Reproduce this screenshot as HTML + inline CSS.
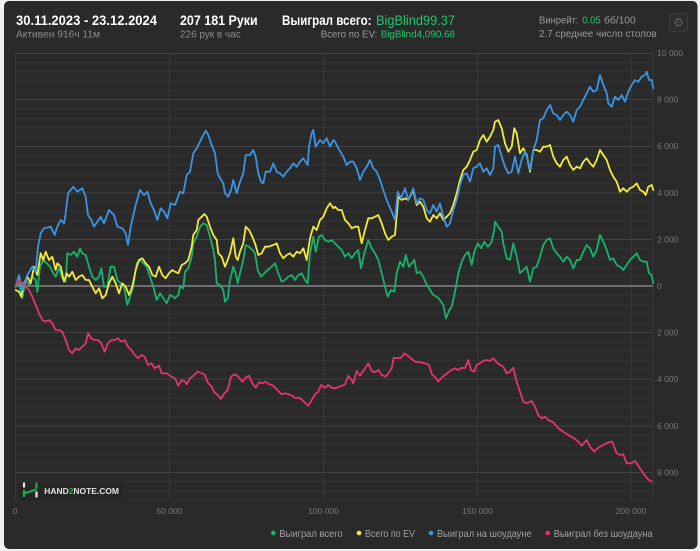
<!DOCTYPE html>
<html><head><meta charset="utf-8"><style>
html,body{margin:0;padding:0;background:#f0f0f0;}
body{width:700px;height:551px;overflow:hidden;position:relative;}
svg{position:absolute;left:0;top:0;}
text{font-family:"Liberation Sans","DejaVu Sans",sans-serif;}
</style></head><body>
<svg width="700" height="551" viewBox="0 0 700 551" xmlns="http://www.w3.org/2000/svg">
<rect x="4" y="1" width="693.5" height="548" rx="5" fill="#2a2a2a"/>

<!-- header -->
<text x="16" y="25" font-size="13.5" font-weight="bold" fill="#ffffff" textLength="141" lengthAdjust="spacingAndGlyphs">30.11.2023 - 23.12.2024</text>
<text x="16" y="37.5" font-size="10.5" fill="#8c8c8c" textLength="84" lengthAdjust="spacingAndGlyphs">Активен 916ч 11м</text>
<text x="180" y="25" font-size="13.5" font-weight="bold" fill="#ffffff" textLength="77.7" lengthAdjust="spacingAndGlyphs">207 181 Руки</text>
<text x="180" y="37.5" font-size="10.5" fill="#8c8c8c" textLength="60.7" lengthAdjust="spacingAndGlyphs">226 рук в час</text>
<text x="282" y="25" font-size="13.5" font-weight="bold" fill="#ffffff" textLength="89.5" lengthAdjust="spacingAndGlyphs">Выиграл всего:</text>
<text x="376" y="25" font-size="13.5" fill="#22c46f" textLength="79" lengthAdjust="spacingAndGlyphs">BigBlind99.37</text>
<text x="320.7" y="37.5" font-size="10.5" fill="#9a9a9a" textLength="56.6" lengthAdjust="spacingAndGlyphs">Всего по EV:</text>
<text x="380.7" y="37.5" font-size="10.5" fill="#22c46f" textLength="74.3" lengthAdjust="spacingAndGlyphs">BigBlind4,090.68</text>
<text x="539" y="23.5" font-size="10.5" fill="#9a9a9a" textLength="39.5" lengthAdjust="spacingAndGlyphs">Винрейт:</text>
<text x="582.3" y="23.5" font-size="10.5" fill="#22c46f" textLength="18.4" lengthAdjust="spacingAndGlyphs">0.05</text>
<text x="604" y="23.5" font-size="10.5" fill="#9a9a9a" textLength="31.7" lengthAdjust="spacingAndGlyphs">бб/100</text>
<text x="539" y="37" font-size="10.5" fill="#9a9a9a" textLength="117.7" lengthAdjust="spacingAndGlyphs">2.7 среднее число столов</text>
<rect x="669.5" y="13.5" width="18" height="18" rx="3" fill="#2d2d2d" stroke="#3d3d3d"/>
<text x="678.5" y="26.5" font-size="12" fill="#5e5e5e" text-anchor="middle" style="font-family:'DejaVu Sans',sans-serif">⚙</text>

<!-- grid minor -->
<path d="M15 62.5H653M15 71.5H653M15 81H653M15 90.5H653M15 109H653M15 118.5H653M15 127.5H653M15 137H653M15 155.5H653M15 165H653M15 174H653M15 183.5H653M15 202H653M15 211.5H653M15 221H653M15 230H653M15 248.5H653M15 258H653M15 267.5H653M15 276.5H653M15 295.5H653M15 304.5H653M15 314H653M15 323.5H653M15 342H653M15 351H653M15 360.5H653M15 370H653M15 388.5H653M15 398H653M15 407H653M15 416.5H653M15 435H653M15 444.5H653M15 454H653M15 463H653M15 481.5H653M15 491H653M15 500.5H653" stroke="#323232" stroke-width="1" fill="none"/>
<!-- grid major -->
<path d="M15 53.5H653M15 99.5H653M15 146.5H653M15 193H653M15 239.5H653M15 332.5H653M15 379H653M15 426H653M15 472.5H653" stroke="#434343" stroke-width="1" fill="none"/>
<!-- vertical -->
<path d="M15.5 53V501M169.5 53V501M323.5 53V501M477.5 53V501M631 53V501M653 53V501" stroke="#393939" stroke-width="1" fill="none"/>
<!-- zero -->
<path d="M15 286H653" stroke="#6e6e6e" stroke-width="2" fill="none"/>

<!-- logo -->
<rect x="19" y="481.5" width="104" height="19" fill="#262626"/>
<path d="M24 482.5V487.5M36.5 491.5V497.5" stroke="#e8e8e8" stroke-width="2.2" fill="none"/>
<path d="M24 490V497M36.5 482.5V488.5M24 493.5L36.5 489.5" stroke="#27a84a" stroke-width="2.2" fill="none"/>
<text x="44.3" y="494" font-size="8.3" font-weight="bold" fill="#e2e2e2" textLength="74.7" lengthAdjust="spacingAndGlyphs">HAND<tspan fill="#27b04e">2</tspan>NOTE.COM</text>

<!-- y labels -->
<g font-size="8.5" fill="#787878">
<text x="657" y="56">10 000</text>
<text x="657" y="102.5">8 000</text>
<text x="657" y="149.2">6 000</text>
<text x="657" y="195.8">4 000</text>
<text x="657" y="242.4">2 000</text>
<text x="657" y="289">0</text>
<text x="657" y="335.6">2 000</text>
<text x="657" y="382.2">4 000</text>
<text x="657" y="428.8">6 000</text>
<text x="657" y="475.4">8 000</text>
</g>
<!-- x labels -->
<g font-size="8.5" fill="#787878" text-anchor="middle">
<text x="15" y="514">0</text>
<text x="169.5" y="514">50 000</text>
<text x="323.5" y="514">100 000</text>
<text x="477.5" y="514">150 000</text>
<text x="631" y="514">200 000</text>
</g>

<!-- series -->
<g fill="none" stroke-width="1.8" stroke-linejoin="round" stroke-linecap="round">
<polyline stroke="#17b36b" points="15.7,286.7 19,283.3 22.3,298.3 25.7,280 29,285 32.3,276.7 35.7,280 37.3,291.7 40,266.7 43.3,260 46.7,263.3 50,266.7 53.3,273.3 55.7,276.7 59,268.3 62.3,278.3 65.7,281.7 67.3,253.3 70.7,255 74,251.7 77.3,256.7 80,248.3 82.3,253.3 85.7,255 89,266.7 92.3,276.7 95.7,280 99,276.7 101.3,268.3 104,286.7 107.3,286.7 110.7,266.7 114,266.7 117.3,280 120.7,283.3 124,286.7 127.3,305 130.7,295 133.3,286.7 136.7,263.3 140,260 143.3,263.3 146.7,266.7 150,276.7 153.3,286.7 156.7,300 160,293.3 163.3,298.3 166.7,303.3 170,295 173.3,296.7 175,298.3 178.3,295 180,286.7 183.3,288.3 185,271.7 188.3,268.3 191.7,256.7 193.3,243.3 196.7,236.7 200,226.7 203.3,223.3 206.7,225 210,236.7 213.3,250 215,260 216.7,283.3 220,285 223.3,290 225,301.7 227.7,298.3 230,280 233.3,266.7 235.7,273.3 237.7,283.3 240,273.3 243.3,260 245.7,245 249,246.7 252.3,250 255,253.3 257.7,270 261,276.7 264.3,273.3 267.7,270 271.7,266.7 275,263.3 278.3,273.3 281.7,281.7 285,280 288.3,276.7 291.7,275 295,280 298.3,275 301.7,273.3 305,280 307.7,283.3 310,253.3 313.3,236.7 315.7,251.7 319,236.7 321.7,235 325,240 328.3,241.7 331.7,240 335,243.3 338.3,246.7 341.7,250 345,256.7 348.3,253.3 351.7,258.3 355,253.3 358.3,250 361,268.3 364.3,253.3 368.3,240 371.7,248.3 375,253.3 378.3,260 381.7,273.3 385,286.7 387.7,296.7 391,290 394.3,291.7 396.7,273.3 400,261.7 403.3,266.7 405.7,255 409,266.7 411.7,263.3 414.3,260 416.7,273.3 420,271.7 423.3,276.7 426.7,285 430,290 433.3,295 436.7,296.7 440,300 443.3,305 446,318.3 449.3,310 451.7,306.7 455,291.7 458.3,273.3 461.7,261.7 465,255 468.3,251.7 471.7,265 474.3,251.7 477.7,243.3 481,248.3 484.3,241.7 487.7,246.7 491,243.3 494.3,230 495,221.7 498.3,226.7 501.7,231.7 503.3,243.3 506.7,258.3 510,260 513.3,243.3 516.7,256.7 520,273.3 523.3,270 526.7,266.7 530,281.7 533.3,268.3 536.7,266.7 540,256.7 543.3,245 546.7,240 550,238.3 553.3,248.3 556.7,253.3 560,256.7 563.3,261.7 566.7,256.7 570,260 573.3,268.3 576.7,260 580,260 583.3,251.7 586.7,245 590,248.3 593.3,256.7 596.7,250 600,235 603.3,241.7 606.7,250 610,260 613.3,258.3 616.7,265 620,266.7 623.3,270 626.7,265 630,260 633.3,256.7 636.7,253.3 640,260 643.3,261.7 646.7,261.7 649,273.3 651.7,275 653.3,283.3"/>
<polyline stroke="#f3ea3c" points="15.7,290 19,291.7 21.3,296.7 24,283.3 27.3,276.7 30.7,283.3 34,266.7 37.3,275 40.7,253.3 43.3,260 45.7,251.7 49,260 52.3,256.7 55.7,270 57.3,263.3 60.7,266.7 64,281.7 66.7,273.3 69,276.7 72.3,271.7 75.7,280 79,276.7 82.3,275 85.7,280 89,280 92.3,286.7 95.7,293.3 99,288.3 102.3,298.3 105.7,295 109,283.3 112.3,276.7 115.7,283.3 119,293.3 122.3,283.3 125.7,286.7 129,295 132.3,286.7 135.7,270 139,260 142.3,258.3 145.7,263.3 149,266.7 152.3,275 155.7,276.7 159,266.7 162.3,275 165.7,278.3 169,273.3 172.3,270 175,271.7 178.3,273.3 181.7,265 185,263.3 188.3,260 191.7,246.7 193.3,235 196.7,230 198.3,220 201.7,216.7 204.3,214 206.7,216.7 210,226.7 213.3,235 216.7,240 218.3,253.3 221.7,256.7 225,266.7 227.7,260 230,253.3 233.3,238.3 235.7,256.7 237.7,260 240,251.7 243.3,243.3 245.7,226.7 249,230 252.3,236.7 255,243.3 258.3,255 261.7,253.3 265,246.7 268.3,246.7 273.3,245 276.7,243.3 280,253.3 283.3,258.3 286.7,255 290,253.3 293.3,256.7 296.7,251.7 300,253.3 303.3,248.3 306.7,260 310,238.3 313.3,226.7 316.7,230 320,220 323.3,216.7 326.7,208.3 330,203.3 333.3,208.3 335,206.7 338.3,210 341.7,210 345,220 348.3,223.3 351.7,228.3 355,226.7 358.3,226.7 361.7,243.3 365,230 368.3,218.3 371.7,218.3 375,216.7 378.3,215 381.7,223.3 385,233.3 388.3,240 391.7,236.7 395,235 398.3,196.7 401.7,200 405,198.3 408.3,200 413.3,190 416.7,205 420,201.7 423.3,206.7 426.7,218.3 430,221.7 433.3,215 436.7,218.3 440,213.3 443.3,220 446.7,216.7 450,213.3 453.3,205 456.7,193.3 460,180 463.3,170 466.7,166.7 470,160 473.3,151.7 476.7,150 480,140 483.3,135 486.7,141.7 490,136.7 493.3,130 495,121.7 498.3,120 501.7,128.3 505,143.3 508.3,151.7 511.7,146.7 514.3,128.3 516.7,133.3 520,153.3 523.3,148.3 526.7,155 530,171.7 533.3,150 536.7,150 540,151.7 543.3,146.7 546.7,146.7 550,145 553.3,156.7 556.7,163.3 560,166.7 563.3,160 566.7,156.7 570,165 573.3,170 576.7,166.7 580,168.3 583.3,161.7 586.7,158.3 590,163.3 593.3,166.7 596.7,160 600,150 603.3,155 606.7,160 610,170 613.3,176.7 616.7,181.7 620,191.7 623.3,188.3 626.7,191.7 630,188.3 633.3,186.7 636.7,183.3 640,190 643.3,191.7 645.7,195 648.3,186.7 651.7,185 653.3,190"/>
<polyline stroke="#3b95e4" points="15.7,286.7 19,275 22.3,290 27.3,275 32.3,266.7 35.7,271.7 38,246.7 40.7,233.3 44,228.3 50.7,226.7 54.7,235 57.3,226.7 60.7,220 64,223.3 65.7,213.3 68,193.3 70.7,190 73.3,186.7 77.3,191.7 82.3,188.3 85.7,196.7 88,215 91.3,220 94,226.7 97.3,221.7 100.7,216.7 104,223.3 109,210 114,215 117.3,226.7 122.3,228.3 125.7,233.3 128,245 130.7,226.7 132.3,220 135.7,205 140,190 144,195 147.3,191.7 150.7,203.3 154,210 157.3,220 160.7,208.3 164,211.7 167.3,218.3 170.7,203.3 175,205 180,191.7 183.3,193.3 186.7,175 190,171.7 193.3,153.3 196.7,148.3 200,141.7 203.3,135 206,130.7 208.3,135 211.7,145 215,153.3 217.7,173.3 220,178.3 223.3,183.3 225,193.3 228.3,196.7 231,190 233.3,180 236.7,193.3 240,181.7 243.3,173.3 245.7,155 250,155 253.3,150 255.7,156.7 258.3,173.3 261,181.7 263.3,183.3 265.7,171.7 270,171.7 273.3,163.3 276.7,171.7 280,173.3 283.3,176.7 286.7,171.7 290,168.3 293.3,163.3 296.7,166.7 300,161.7 303.3,158.3 307.7,165 309,146.7 311.7,133.3 313.3,130 315.7,146.7 320,140 323.3,143.3 326.7,138.3 330,146.7 333.3,140 335,141.7 338.3,148.3 343.3,156.7 346.7,165 350,161.7 353.3,161.7 356.7,168.3 360,180 363.3,171.7 366.7,166.7 370,160 373.3,168.3 376.7,171.7 380,180 383.3,190 386.7,200 391.7,211.7 395,220 397.7,191.7 401,198.3 405,188.3 408.3,200 413.3,188.3 416.7,203.3 420,198.3 423.3,200 426.7,210 430,213.3 433.3,205 436.7,211.7 440,203.3 443.3,216.7 446.7,226.7 450,223.3 453.3,210 456.7,200 460,185 463.3,175 466.7,173.3 470,181.7 473.3,168.3 476.7,166.7 480,163.3 483.3,171.7 486.7,168.3 490,175 493.3,168.3 495,146.7 498.3,145 501.7,156.7 505,166.7 508.3,173.3 511.7,171.7 515,156.7 518.3,173.3 521.7,160 525,151.7 528.3,161.7 530,170 533.3,150 536.7,140 540,120 543.3,118.3 546.7,110 550,105 553.3,113.3 556.7,115 560,120 563.3,115 566.7,111.7 570,115 573.3,121.7 576.7,110 580,106.7 583.3,100 586.7,93.3 590,86.7 593.3,91.7 596.7,90 600,75 603.3,85 606.7,93.3 608.3,103.3 611.7,106.7 615,96.7 618.3,100 621.7,95 625,101.7 628.3,91.7 631.7,85 635,80 638.3,81.7 641.7,76.7 645,75 646.7,71.7 649,80 651.7,80 653.3,88.3"/>
<polyline stroke="#e4346e" points="15.7,285 19,280 22.3,283.3 25.7,286.7 29,290 32.3,296.7 35.7,305 39,313.3 42.3,320 45.7,321.7 49,320 52.3,323.3 55.7,330 59,330 62.3,331.7 65.7,340 69,350 72.3,353.3 75.7,348.3 79,350 82.3,346.7 85.7,343.3 88,333.3 91.3,338.3 94.7,340 98,340 101.3,343.3 104.7,351.7 108,343.3 111.3,340 114.7,340 118,338.3 121.3,341.7 124.7,340 128,346.7 131.3,350 134.7,355 138,358.3 141.3,355 144.7,356.7 148,365 151.3,363.3 154.7,368.3 159,365.7 161.7,373.3 166.7,373.3 171.7,376.7 175,378.3 178.3,385.7 181.7,380 185,381.7 186.7,384.3 190,378.3 193.3,375.7 197.7,371.7 201.7,373.3 204.3,374.3 208.3,383.3 211.7,386.7 214.3,392.3 217.7,395 221,399 224.3,393.3 227.7,390 231,376.7 234.3,374.3 238.3,376.7 242.3,381.7 245.7,377.7 249,375.7 252.3,383.3 255.7,387.7 259,382.3 262.3,383.3 265.7,381.7 269,384.3 272.3,385 275.7,388.3 279,391.7 281.7,394.3 285.7,393.3 289,394.3 292.3,395.7 295.7,398.3 299,397.7 302.3,400 305.7,403.3 308.3,405.7 311.7,400 315,394.3 318.3,391.7 321,385 325,387.7 328.3,385 331.7,387.7 335,388.3 339,386.7 342.3,385.7 345,384.3 348.3,375.7 351.7,380 353.3,383.3 356.7,371 360,375.7 363.3,371 368.3,363.3 371.7,371 375,372.3 378.3,370 381.7,375 385.7,376.7 388.3,373.3 391.7,368.3 393.7,357.7 397.7,358.3 401,357.7 404.3,353.3 407.7,355.7 411.7,359 415,361.7 420,362.3 425,363.3 429,365 432.3,375 435,376.7 438.3,381.7 441.7,377.7 445,375 448.3,372.3 451.7,370 455,368.3 458.3,370 461.7,367.7 465,368.3 468.3,360 471,370 474.3,371.7 476.7,365 480,363.3 483.3,361 486.7,360 490,361 493.3,358.3 496.7,362.3 500,365 503.3,366.7 506.7,373.3 510,371.7 513.3,367.7 516.7,381.7 520,391.7 523.3,401.7 526.7,403.3 531.7,401 535,406.7 538.3,415 541.7,418.3 545,416.7 548.3,420 553.3,422.3 558.3,428.3 563.3,431.7 568.3,435 573.3,437.7 578.3,441.7 581.7,445.7 586.7,440 590,446.7 594.3,451.7 598.3,447.7 603.3,445 608.3,442.3 612.3,441.7 616.7,453.3 620,455 623.3,454.3 626.7,463.3 631,463.3 635,461 638.3,465.7 643.3,473.3 647.7,479 651.7,481.7"/>
</g>

<!-- legend -->
<circle cx="273.3" cy="533" r="2.3" fill="#17b36b"/>
<text x="279.3" y="536.8" font-size="10.5" fill="#a2a2a2" textLength="63.4" lengthAdjust="spacingAndGlyphs">Выиграл всего</text>
<circle cx="359" cy="533" r="2.3" fill="#f3ea3c"/>
<text x="365" y="536.8" font-size="10.5" fill="#a2a2a2" textLength="50" lengthAdjust="spacingAndGlyphs">Всего по EV</text>
<circle cx="431" cy="533" r="2.3" fill="#3b95e4"/>
<text x="437" y="536.8" font-size="10.5" fill="#a2a2a2" textLength="94.7" lengthAdjust="spacingAndGlyphs">Выиграл на шоудауне</text>
<circle cx="547.7" cy="533" r="2.3" fill="#e4346e"/>
<text x="553.7" y="536.8" font-size="10.5" fill="#a2a2a2" textLength="99" lengthAdjust="spacingAndGlyphs">Выиграл без шоудауна</text>
</svg>
</body></html>
